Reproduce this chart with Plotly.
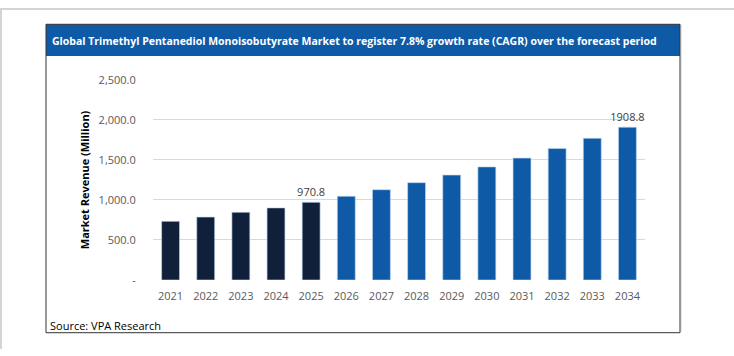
import plotly.graph_objects as go

years = ["2021", "2022", "2023", "2024", "2025", "2026", "2027", "2028", "2029", "2030", "2031", "2032", "2033", "2034"]
revenue = [733, 786, 846, 901, 970.8, 1046, 1128, 1216, 1311, 1413, 1523, 1642, 1770, 1908.8]
hist_color = "#10203A"
fcst_color = "#0E5AA7"
colors = [hist_color if int(y) <= 2025 else fcst_color for y in years]
y_tickvals = [0, 500, 1000, 1500, 2000, 2500]
y_ticktext = ["-", "500.0", "1,000.0", "1,500.0", "2,000.0", "2,500.0"]
labelled = {"2025": "970.8", "2034": "1908.8"}
title_text = "Global Trimethyl Pentanediol Monoisobutyrate Market to register 7.8% growth rate (CAGR) over the forecast period"
source_text = "Source: VPA Research"

W, H = 734, 356
def px(x):
    return x / W
def py(y):
    return 1 - y / H

FONT = "Open Sans"

fig = go.Figure()
fig.add_trace(go.Bar(
    x=years, y=revenue,
    marker=dict(color=colors, line=dict(color="rgba(190,215,240,0.8)", width=0.8)),
    text=[labelled.get(y, "") for y in years],
    textposition="outside",
    constraintext="none",
    textfont=dict(family=FONT, size=11, color="#404040"),
    cliponaxis=False,
    hoverinfo="skip",
))

fig.update_layout(
    width=W, height=H,
    margin=dict(l=0, r=0, t=0, b=0),
    paper_bgcolor="white", plot_bgcolor="white",
    bargap=0.49,
    showlegend=False,
    xaxis=dict(
        domain=[px(153), px(645)],
        showgrid=False, zeroline=False, showline=False,
        tickfont=dict(family=FONT, size=11, color="#595959"),
        ticks="outside", ticklen=6, tickcolor="rgba(0,0,0,0)",
    ),
    yaxis=dict(
        domain=[py(284), py(75)],
        range=[0, 2500],
        tickvals=y_tickvals, ticktext=y_ticktext,
        showgrid=True, gridcolor="#D9D9D9", gridwidth=1,
        zeroline=False, showline=False,
        tickfont=dict(family=FONT, size=11, color="#595959"),
        ticks="outside", ticklen=14, tickcolor="rgba(0,0,0,0)",
        title=dict(text="<b>Market Revenue (Million)</b>",
                   font=dict(family=FONT, size=11, color="#000000"), standoff=6),
    ),
    shapes=[
        dict(type="line", xref="paper", yref="paper", x0=0, x1=1, y0=py(1), y1=py(1),
             line=dict(color="#D4D4D4", width=2)),
        dict(type="line", xref="paper", yref="paper", x0=px(1), x1=px(1), y0=py(0), y1=py(356),
             line=dict(color="#D4D4D4", width=2)),
        dict(type="line", xref="paper", yref="paper", x0=px(681.5), x1=px(681.5), y0=py(17), y1=py(338),
             line=dict(color="#E4E4E4", width=1)),
        dict(type="rect", xref="paper", yref="paper", x0=px(46), x1=px(680), y0=py(17), y1=py(50),
             fillcolor="#0E5AA7", line=dict(width=0), layer="below"),
        dict(type="rect", xref="paper", yref="paper", x0=px(46), x1=px(680), y0=py(17), y1=py(339),
             line=dict(color="#333333", width=1), fillcolor="rgba(0,0,0,0)"),
    ],
    annotations=[
        dict(text="<b>" + title_text + "</b>", xref="paper", yref="paper",
             x=px(50), y=py(34), xanchor="left", yanchor="middle", showarrow=False,
             font=dict(family=FONT, size=10.5, color="white")),
        dict(text=source_text, xref="paper", yref="paper",
             x=px(48), y=py(331), xanchor="left", yanchor="middle", showarrow=False,
             font=dict(family=FONT, size=11, color="#000000")),
    ],
)

fig.write_html("out.html", config={"displayModeBar": False},
               post_script="document.body.style.margin='0';")
